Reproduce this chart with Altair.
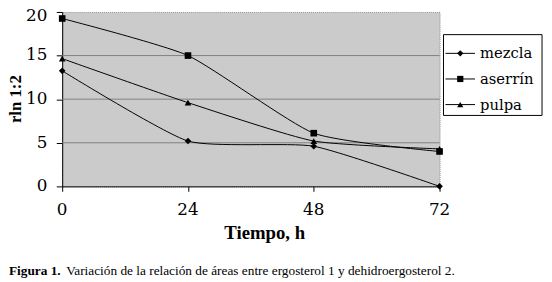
import altair as alt
import pandas as pd

tiempo = [0, 24, 48, 72]
series = ["mezcla", "aserrín", "pulpa"]
mezcla = [13.25, 5.2, 4.6, 0.0]
aserrin = [19.25, 15.0, 6.1, 4.0]
pulpa = [14.65, 9.6, 5.2, 4.3]
grid_vals = [5, 10, 15]
y_ticks = [0, 5, 10, 15, 20]
x_ticks = [0, 24, 48, 72]
caption_bold = "Figura 1."
caption_text = "Variación de la relación de áreas entre ergosterol 1 y dehidroergosterol 2."

rows = []
for name, vals in zip(series, [mezcla, aserrin, pulpa]):
    for t, v in zip(tiempo, vals):
        rows.append({"t": t, "v": v, "serie": name})
df = pd.DataFrame(rows)
grid_df = pd.DataFrame({"g": grid_vals})
xt_df = pd.DataFrame({"t": x_ticks})
yt_df = pd.DataFrame({"v": y_ticks})
leg_df = pd.DataFrame({"serie": series, "idx": list(range(len(series)))})

FONT = "Liberation Serif"
LFONT = "DejaVu Serif, Liberation Serif, serif"
shape_scale = alt.Scale(domain=series, range=["diamond", "square", "triangle-up"])

xscale = alt.Scale(domain=[0, 72], nice=False, zero=False)
yscale = alt.Scale(domain=[0, 20], nice=False)

xaxis = alt.Axis(values=x_ticks, grid=False, domainColor="black", tickColor="black",
                 tickSize=5, labels=False,
                 title="Tiempo, h", titleFont=FONT, titleFontSize=19,
                 titleFontWeight="bold", titleColor="black", titleX=205, titleY=47,
                 titleAlign="center", titleBaseline="middle", titleAnchor="start")
yaxis = alt.Axis(values=y_ticks, grid=False, domainColor="black", tickColor="black",
                 tickSize=6, labels=False,
                 title="rln 1:2", titleFont=FONT, titleFontSize=17,
                 titleFontWeight="bold", titleColor="black", titleX=-47, titleY=88,
                 titleAlign="center", titleBaseline="middle", titleAngle=270,
                 titleAnchor="start")

grid = alt.Chart(grid_df).mark_rule(color="#808080", strokeWidth=1).encode(
    y=alt.Y("g:Q", scale=yscale, axis=yaxis)
)

lines = alt.Chart(df).mark_line(color="black", strokeWidth=1, interpolate="cardinal",
                                tension=0.45).encode(
    x=alt.X("t:Q", scale=xscale, axis=xaxis),
    y=alt.Y("v:Q", scale=yscale, axis=yaxis),
    detail="serie:N",
)

points = alt.Chart(df).mark_point(filled=True, color="black", size=45, opacity=1).encode(
    x=alt.X("t:Q", scale=xscale),
    y=alt.Y("v:Q", scale=yscale),
    shape=alt.Shape("serie:N", scale=shape_scale, legend=None),
)

# tick labels (drawn through the scales)
xlab = alt.Chart(xt_df).mark_text(font=LFONT, fontSize=17, color="black",
                                  baseline="middle", align="center").encode(
    x=alt.X("t:Q", scale=xscale), y=alt.value(201), text=alt.Text("t:Q"))
ylab = alt.Chart(yt_df).transform_calculate(
    vp="datum.v == 20 ? datum.v - 0.45 : datum.v"
).mark_text(font=LFONT, fontSize=17, color="black",
            baseline="middle", align="right").encode(
    y=alt.Y("vp:Q", scale=yscale), x=alt.value(-15), text=alt.Text("v:Q"))

# legend
LX, LY, LW, LH = 387, 23, 100, 82
ROW0, ROWH = 19, 26
box = alt.Chart(pd.DataFrame({"k": [0]})).mark_rect(fill="white", stroke="black",
                                                    strokeWidth=1).encode(
    x=alt.value(LX), x2=alt.value(LX + LW), y=alt.value(LY), y2=alt.value(LY + LH))
leg_base = alt.Chart(leg_df).transform_calculate(
    ly=f"{LY + ROW0} + datum.idx * {ROWH}")
leg_line = leg_base.mark_rule(color="black", strokeWidth=1).encode(
    x=alt.value(LX + 2), x2=alt.value(LX + 32), y=alt.Y("ly:Q", scale=None))
leg_pt = leg_base.mark_point(filled=True, color="black", size=40, opacity=1).encode(
    x=alt.value(LX + 17), y=alt.Y("ly:Q", scale=None),
    shape=alt.Shape("serie:N", scale=shape_scale, legend=None))
leg_txt = leg_base.mark_text(font=LFONT, fontSize=15, color="black", align="left",
                             baseline="middle").encode(
    x=alt.value(LX + 37), y=alt.Y("ly:Q", scale=None), text="serie:N")

cap_df = pd.DataFrame({"a": [caption_bold], "b": [caption_text]})
cap1 = alt.Chart(cap_df).mark_text(font=FONT, fontSize=13.5, fontWeight="bold", align="left",
                                   baseline="middle", color="black").encode(
    text="a:N", x=alt.value(-54), y=alt.value(263))
cap2 = alt.Chart(cap_df).mark_text(font=FONT, fontSize=13.5, align="left",
                                   baseline="middle", color="black").encode(
    text="b:N", x=alt.value(4), y=alt.value(263))

chart = alt.layer(grid, lines, points, xlab, ylab, box, leg_line, leg_pt, leg_txt,
                  cap1, cap2).properties(
    width=383, height=177,
    autosize=alt.AutoSizeParams(type="none"),
    padding={"left": 55, "top": 2, "right": 106, "bottom": 93},
    background="white",
).configure(
    font=FONT
).configure_view(
    fill="#cbcbcb", stroke="#8a8a8a", strokeDash=[1, 1], strokeWidth=1
)

chart.save("out.html", embed_options={"renderer": "svg", "actions": False})
